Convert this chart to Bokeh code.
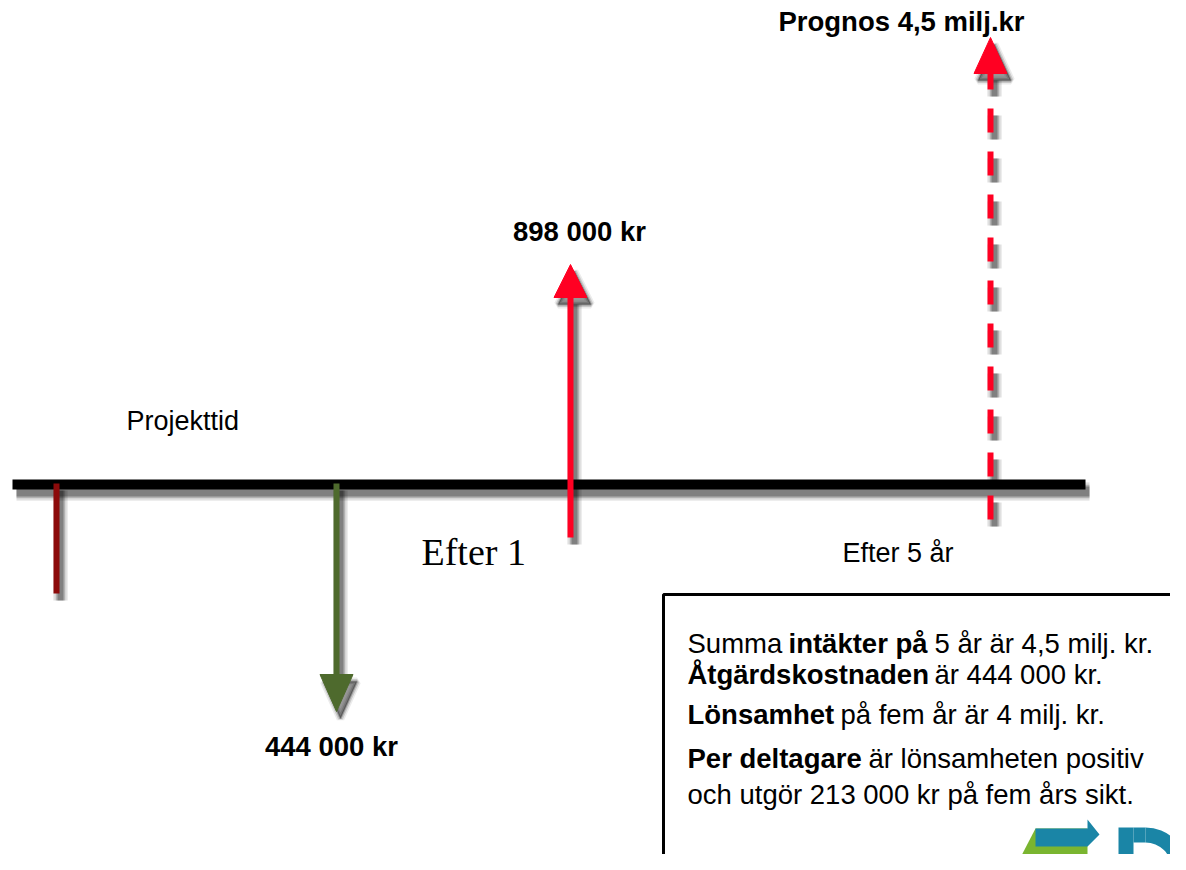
import math
from bokeh.plotting import figure
from bokeh.models import Range1d
from bokeh.core.properties import value
from bokeh.embed import file_html
from bokeh.resources import INLINE

# ---------------- data ----------------
# timeline (y = 0 is the timeline, units = px above it)
timeline_x = [12, 1085]

# start tick (project start)
tick_x = [56]
tick_y0 = [1]
tick_y1 = [-109]

# arrows: cost (down), income after 1 year, prognosis after 5 years
arrow_labels = ["444 000 kr", "898 000 kr", "Prognos 4,5 milj.kr"]
arrow_x = [336, 570, 990]
arrow_from = [1, -53, -35]
arrow_base = [-190, 187, 411]
arrow_tip = [-227, 220, 447]
arrow_colors = ["#4e6a2d", "#ff0022", "#ff0022"]
arrow_dash = ["solid", "solid", "24 19"]
label_x = [331, 579, 901]
label_y = [-262, 253, 463]

# timeline texts
time_labels = ["Projekttid", "Efter 1", "Efter 5 år"]
time_x = [126, 421, 842]
time_y = [64, -67, -68]

# summary box text (segments: text, bold, x, line)
box_segments = [
    ("Summa", False, 687, 0), ("intäkter på", True, 788, 0), ("5 år är 4,5 milj. kr.", False, 934, 0),
    ("Åtgärdskostnaden", True, 687, 1), ("är 444 000 kr.", False, 934, 1),
    ("Lönsamhet", True, 687, 2), ("på fem år är 4 milj. kr.", False, 840, 2),
    ("Per deltagare", True, 687, 3), ("är lönsamheten positiv", False, 868, 3),
    ("och utgör 213 000 kr på fem års sikt.", False, 687, 4),
]
box_baselines = [-159, -190, -230, -274, -310]

SANS = value("Liberation Sans")
SERIF = value("Liberation Serif")
DX, DY = 4, -7

p = figure(width=1170, height=854, x_range=Range1d(0, 1170), y_range=Range1d(-370, 484),
           output_backend="svg", toolbar_location=None,
           x_axis_location=None, y_axis_location=None, min_border=0)
p.grid.visible = False
p.outline_line_color = None
p.background_fill_color = "white"
p.border_fill_color = "white"


def shadow_line(xs, ys, w, dash="solid"):
    for extra, a in [(9, 0.07), (6, 0.1), (3, 0.16), (0, 0.28)]:
        p.line([x + DX for x in xs], [y + DY for y in ys], line_width=w + extra,
               line_color="black", line_alpha=a, line_dash=dash)


def shadow_patch(xs, ys):
    for lw, a in [(8, 0.08), (5, 0.14), (2, 0.25)]:
        p.patch([x + DX for x in xs], [y + DY for y in ys], fill_color="black", fill_alpha=a,
                line_color="black", line_alpha=a, line_width=lw)


# shadows
shadow_line(timeline_x, [0, 0], 10)
for x, a, b in zip(tick_x, tick_y0, tick_y1):
    shadow_line([x, x], [a, b], 6)
heads = []
for x, a, b, t, d in zip(arrow_x, arrow_from, arrow_base, arrow_tip, arrow_dash):
    shadow_line([x, x], [a, b], 6, d)
    hx = [x - 16.5, x + 16.5, x]
    hy = [b, b, t]
    heads.append((hx, hy))
    shadow_patch(hx, hy)

# timeline
p.line(timeline_x, [0, 0], line_width=10, line_color="black")

# start tick
for x, a, b in zip(tick_x, tick_y0, tick_y1):
    p.line([x, x], [a, b], line_width=6, line_color="#8c0b0b")

# arrows
for (hx, hy), x, a, b, c, d in zip(heads, arrow_x, arrow_from, arrow_base, arrow_colors, arrow_dash):
    p.line([x, x], [a, b], line_width=6, line_color=c, line_dash=d)
    p.patch(hx, hy, fill_color=c, line_color=c, line_width=1)

p.text(x=label_x, y=label_y, text=arrow_labels, text_font=SANS, text_font_size="27.5px",
       text_font_style="bold", text_align="center", text_baseline="alphabetic", text_color="black")

p.text(x=time_x[0:1], y=time_y[0:1], text=time_labels[0:1], text_font=SANS, text_font_size="27px",
       text_align="left", text_baseline="alphabetic", text_color="black")
p.text(x=time_x[1:2], y=time_y[1:2], text=time_labels[1:2], text_font=SERIF, text_font_size="38px",
       text_align="left", text_baseline="alphabetic", text_color="black")
p.text(x=time_x[2:3], y=time_y[2:3], text=time_labels[2:3], text_font=SANS, text_font_size="27px",
       text_align="left", text_baseline="alphabetic", text_color="black")

# summary box
p.quad(left=663, right=1300, top=-110, bottom=-600, fill_color="white", line_color="black", line_width=3)

# logo (partially visible)
BLUE = "#1a85a6"
p.patch([1035, 1087, 1087, 1006], [-344, -344, -400, -400], fill_color="#7ab530", line_color=None)
p.patch([1035, 1087, 1087, 1099, 1087, 1035], [-344, -344, -335, -350, -362, -362],
        fill_color=BLUE, line_color=None)
p.quad(left=1118, right=1133, top=-343, bottom=-420, fill_color=BLUE, line_color=None)
p.quad(left=1133, right=1145, top=-343, bottom=-358, fill_color=BLUE, line_color=None)
p.annular_wedge(x=1145, y=-384, inner_radius=26, outer_radius=41, start_angle=0,
                end_angle=math.pi / 2, fill_color=BLUE, line_color=None)

for txt, bold, x, ln in box_segments:
    p.text(x=[x], y=[box_baselines[ln]], text=[txt], text_font=SANS,
           text_font_size="27.5px",
           text_font_style="bold" if bold else "normal",
           text_align="left", text_baseline="alphabetic", text_color="black")

open("out.html", "w").write(file_html(p, INLINE))
